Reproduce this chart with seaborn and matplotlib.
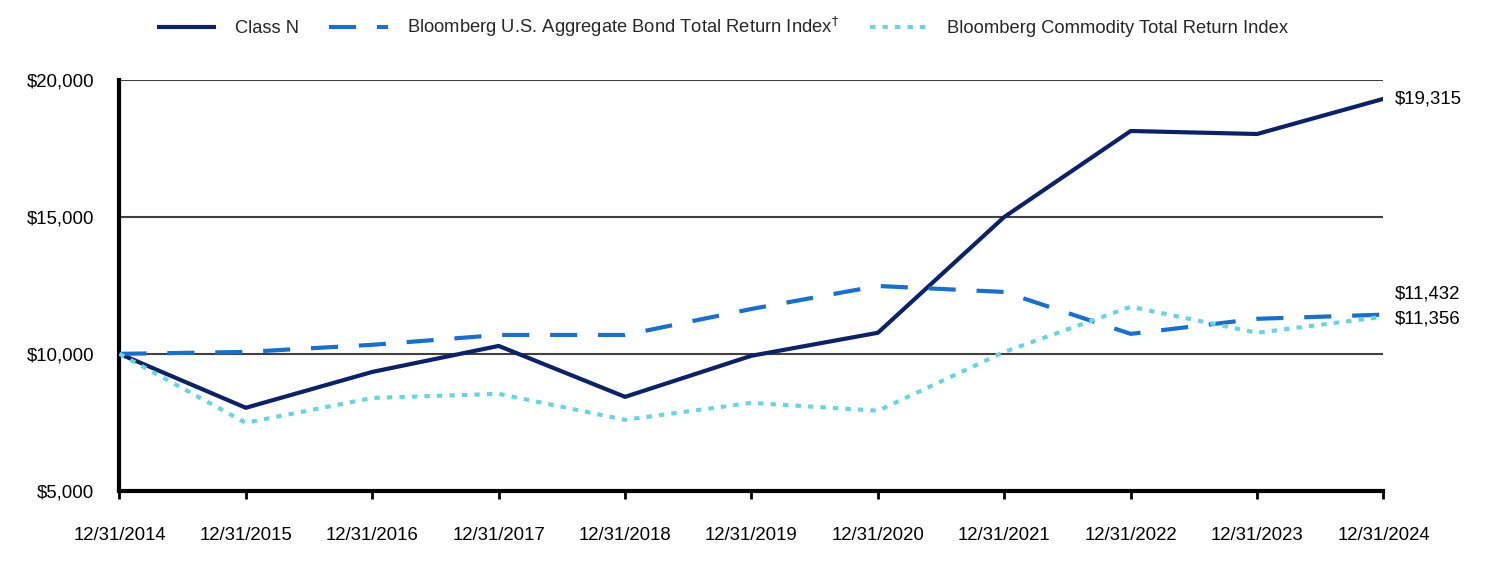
import matplotlib
matplotlib.use("Agg")
import matplotlib.pyplot as plt
import seaborn as sns
import pandas as pd
from matplotlib.ticker import FuncFormatter

# data
dates = ["12/31/2014", "12/31/2015", "12/31/2016", "12/31/2017", "12/31/2018", "12/31/2019",
         "12/31/2020", "12/31/2021", "12/31/2022", "12/31/2023", "12/31/2024"]
class_n = [10000, 8030, 9340, 10290, 8430, 9930, 10770, 15000, 18140, 18030, 19315]
bond_idx = [10000, 10070, 10330, 10690, 10690, 11640, 12480, 12260, 10730, 11280, 11432]
commod_idx = [10000, 7480, 8390, 8540, 7590, 8210, 7920, 10070, 11720, 10770, 11356]

names = ["Class N", "Bloomberg U.S. Aggregate Bond Total Return Index$^{\\dagger}$",
         "Bloomberg Commodity Total Return Index"]
colors = ["#0b2266", "#1a6fc9", "#6ad3df"]
end_labels = ["$19,315", "$11,432", "$11,356"]

df = pd.DataFrame({"x": list(range(len(dates))) * 3,
                   "value": class_n + bond_idx + commod_idx,
                   "series": [names[0]] * len(dates) + [names[1]] * len(dates) + [names[2]] * len(dates)})

sns.set_theme(style="white")
plt.rcParams["font.family"] = ["Liberation Sans", "DejaVu Sans"]
fs = 13.4
dash_styles = [(1, 0), (6.5, 5), (1.3, 1.7)]

fig, ax = plt.subplots(figsize=(15.12, 5.76), dpi=100)
fig.subplots_adjust(left=0.079, right=0.915, top=0.861, bottom=0.148)

ax.grid(axis="y", color="#404040", linewidth=1.5, zorder=0)
ax.set_axisbelow(True)

sns.lineplot(data=df, x="x", y="value", hue="series", style="series",
             palette=colors, dashes=dash_styles, linewidth=3,
             ax=ax, legend=False, zorder=3)

ax.set_xlim(0, len(dates) - 1)
ax.set_ylim(5000, 20000)
ax.set_yticks([5000, 10000, 15000, 20000])
ax.yaxis.set_major_formatter(FuncFormatter(lambda v, p: f"${v:,.0f}"))
ax.set_xticks(range(len(dates)))
ax.set_xticklabels(dates)
ax.set_xlabel("")
ax.set_ylabel("")

for s in ["top", "right"]:
    ax.spines[s].set_visible(False)
for s in ["left", "bottom"]:
    ax.spines[s].set_color("black")
    ax.spines[s].set_linewidth(3)
ax.tick_params(axis="x", bottom=True, length=6, width=2, color="black", pad=20,
               labelsize=fs, labelcolor="black")
ax.tick_params(axis="y", left=False, pad=12, labelsize=fs, labelcolor="black")

# end value labels
last = len(dates) - 1
ax.text(last + 0.09, class_n[-1], end_labels[0], va="center", ha="left", fontsize=fs, color="black")
ax.text(last + 0.09, 12170, end_labels[1], va="center", ha="left", fontsize=fs, color="black")
ax.text(last + 0.09, 11270, end_labels[2], va="center", ha="left", fontsize=fs, color="black")

# legend along the top
handles = [plt.Line2D([], [], color=colors[i], lw=3, dashes=dash_styles[i]) for i in range(3)]
fig.legend(handles, names, loc="upper left", bbox_to_anchor=(0.093, 1.002), ncol=3,
           frameon=False, fontsize=13.2, handlelength=3.2, columnspacing=1.65,
           handletextpad=1.05)

fig.savefig("out.png", dpi=100)
